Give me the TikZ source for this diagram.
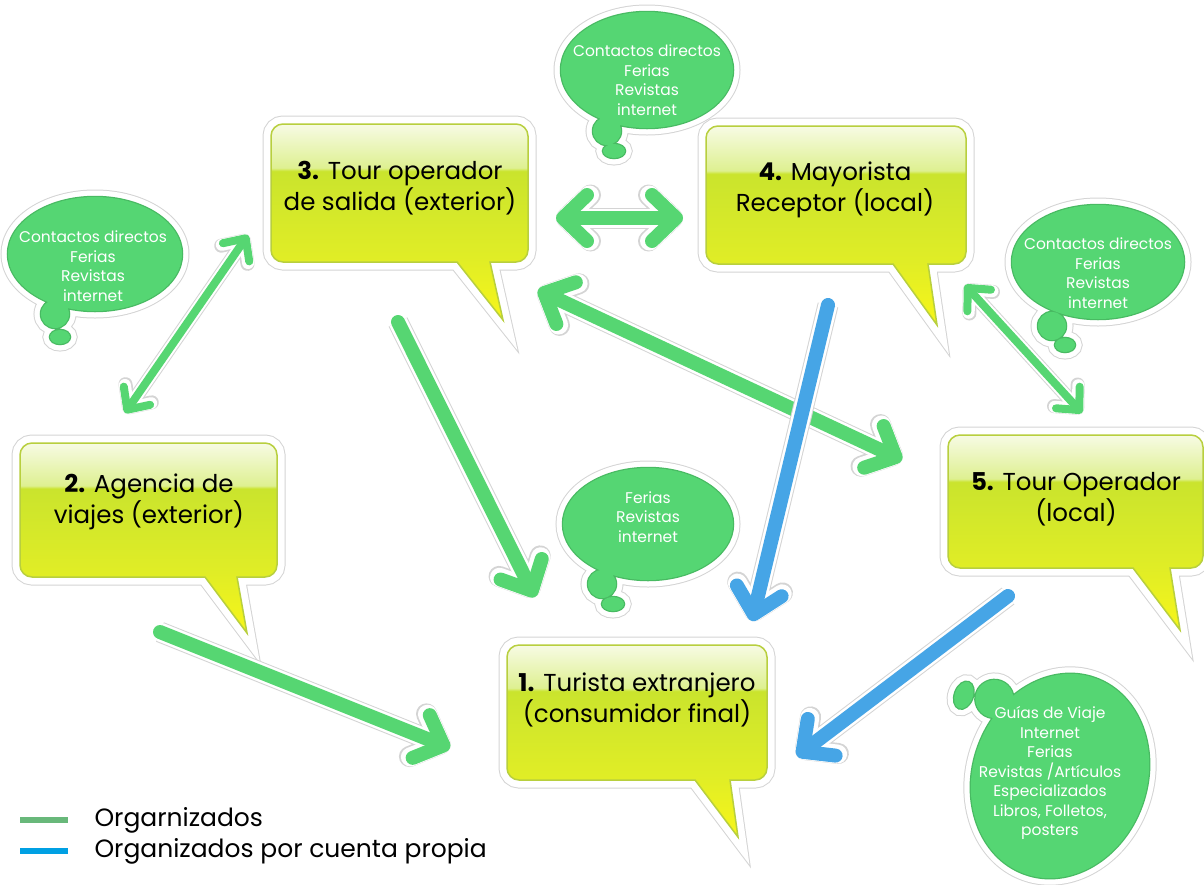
\documentclass[tikz,border=0pt]{standalone}
\usepackage{fontspec}
\setmainfont{Poppins}
\usetikzlibrary{arrows.meta}
\usetikzlibrary{calc, positioning}
\definecolor{brillo}{RGB}{247,251,228}
\definecolor{brillobajo}{RGB}{222,240,145}
\definecolor{cajamedio}{RGB}{202,228,45}
\definecolor{cajabajo}{RGB}{224,237,38}
\definecolor{cola}{RGB}{247,246,25}
\definecolor{borde}{RGB}{184,207,62}
\definecolor{halo}{RGB}{212,212,212}
\definecolor{nubeverde}{RGB}{85,214,115}
\definecolor{nubeborde}{RGB}{72,186,98}
\definecolor{flechaverde}{RGB}{86,214,114}
\definecolor{flechaazul}{RGB}{70,165,230}
\definecolor{leyverde}{RGB}{104,184,122}
\definecolor{leyazul}{RGB}{0,160,227}

\pgfdeclareverticalshading{globo}{100bp}{color(0bp)=(cola); color(25bp)=(cola); color(41bp)=(cajabajo); color(63bp)=(cajamedio); color(63.8bp)=(brillobajo); color(75bp)=(brillo); color(100bp)=(brillo)}

\tikzset{
  globo/.style={shading=globo, draw=borde, line width=1.5pt,
    preaction={draw=halo, line width=17pt}, preaction={draw=white, line width=15pt}},
  globotexto/.style={align=center, text=black, font=\fontsize{24.5}{31}\selectfont},
  nube/.style={fill=nubeverde, preaction={draw=halo, line width=15pt},
    preaction={draw=white, line width=13pt}, preaction={draw=nubeborde, line width=2.5pt}},
  nubetexto/.style={align=center, text=white, font=\fontsize{15.5}{19.5}\selectfont},
  flecha/.style={line width=14pt, line cap=round,
    preaction={draw=halo, line width=21pt}, preaction={draw=white, line width=19pt}},
  flechafina/.style={flechaverde, line width=8pt, line cap=round,
    preaction={draw=halo, line width=14pt}, preaction={draw=white, line width=12pt}},
  punta/.tip={Straight Barb[round, length=24pt, width=46pt]},
  puntafina/.tip={Straight Barb[round, length=17pt, width=32pt]},
  leyenda/.style={anchor=west, text=black, font=\fontsize{25}{30}\selectfont}
}

\begin{document}
\begin{tikzpicture}[x=1pt, y=1pt, yscale=-1]
\useasboundingbox (0,0) rectangle (1204,884);

% nubes
\path[nube] (647,70) ellipse[x radius=86, y radius=58] (607,131) circle[radius=14] (614,151) ellipse[x radius=11, y radius=7];
\path[nube] (95,254) ellipse[x radius=87, y radius=57] (55,314) circle[radius=14] (60,337) ellipse[x radius=10, y radius=7];
\path[nube] (1098,262) ellipse[x radius=86, y radius=57] (1052,326) circle[radius=14] (1065,345) ellipse[x radius=10, y radius=7];
\path[nube] (648,524) ellipse[x radius=85, y radius=56] (602,584) circle[radius=14] (613,604) ellipse[x radius=11, y radius=7];
\begin{scope}[rotate around={20:(1060,776)}]
  \path[nube] (1060,776) ellipse[x radius=87, y radius=104] (972,726) circle[radius=19] (942,733) ellipse[x radius=9, y radius=14];
\end{scope}

% globos
\path[globo] (400,124) [rounded corners=12] -- (528,124) -- (528,262) [sharp corners] -- (490,262) -- (503,320) -- (457,262) [rounded corners=12] -- (271,262) -- (271,124) -- cycle;
\path[globo] (836,126) [rounded corners=12] -- (966,126) -- (966,264) [sharp corners] -- (928,264) -- (937,325) -- (893,264) [rounded corners=12] -- (706,264) -- (706,126) -- cycle;
\path[globo] (148,443) [rounded corners=12] -- (277,443) -- (277,577) [sharp corners] -- (237,577) -- (247,633) -- (205,577) [rounded corners=12] -- (20,577) -- (20,443) -- cycle;
\path[globo] (1076,435) [rounded corners=12] -- (1203,435) -- (1203,568) [sharp corners] -- (1170,568) -- (1180,630) -- (1133,568) [rounded corners=12] -- (948,568) -- (948,435) -- cycle;
\path[globo] (637,645) [rounded corners=12] -- (767,645) -- (767,780) [sharp corners] -- (730,780) -- (738,837) -- (695,780) [rounded corners=12] -- (507,780) -- (507,645) -- cycle;

\node[globotexto] (b3) at (400,188) {\textbf{3.} Tour operador\\de salida (exterior)};
\node[globotexto] (b4) at (835,190) {\textbf{4.} Mayorista\\Receptor (local)};
\node[globotexto] (b2) at (149,502) {\textbf{2.} Agencia de\\viajes (exterior)};
\node[globotexto] (b5) at (1076,499) {\textbf{5.} Tour Operador\\(local)};
\node[globotexto] (b1) at (637,700) {\textbf{1.} Turista extranjero\\(consumidor final)};

\node[nubetexto] (n4) at (647,80) {Contactos directos\\Ferias\\Revistas\\internet};
\node[nubetexto] (n2) at (93,266) {Contactos directos\\Ferias\\Revistas\\internet};
\node[nubetexto] (n5) at (1098,273) {Contactos directos\\Ferias\\Revistas\\internet};
\node[nubetexto] (n1) at (648,517) {Ferias\\Revistas\\internet};
\node[nubetexto] (n6) at (1050,773) {Gu\'ias de Viaje\\Internet\\Ferias\\Revistas /Art\'iculos\\Especializados\\Libros, Folletos,\\posters};

% extremos de flechas
\coordinate (a1s) at (125,413); \coordinate (a1e) at (248,235);
\coordinate (a2s) at (556,218); \coordinate (a2e) at (683,218);
\coordinate (a3s) at (538,290); \coordinate (a3e) at (902,460);
\coordinate (a4s) at (398,322); \coordinate (a4e) at (535,597);
\coordinate (a5s) at (160,632); \coordinate (a5e) at (450,748);
\coordinate (a6s) at (965,285); \coordinate (a6e) at (1082,413);
\coordinate (a7s) at (828,305); \coordinate (a7e) at (752,621);
\coordinate (a8s) at (1008,596); \coordinate (a8e) at (797,756);

% organizados
\draw[flechafina, puntafina-puntafina] (a1s) -- (a1e);
\draw[flecha, flechaverde, punta-punta] (a2s) -- (a2e);
\draw[flecha, flechaverde, punta-punta] (a3s) -- (a3e);
\draw[flecha, flechaverde, -punta] (a4s) -- (a4e);
\draw[flecha, flechaverde, -punta] (a5s) -- (a5e);
\draw[flechafina, puntafina-puntafina] (a6s) -- (a6e);
% por cuenta propia
\draw[flecha, flechaazul, -punta] (a7s) -- (a7e);
\draw[flecha, flechaazul, -punta] (a8s) -- (a8e);

% leyenda
\coordinate (l1) at (20,820);
\coordinate (l2) at (20,851);
\draw[leyverde, line width=6pt] (l1) -- ++(48,0) coordinate (l1e);
\draw[leyazul, line width=6pt] (l2) -- ++(48,0) coordinate (l2e);
\node[leyenda, right=23pt of l1e] (t1) {Orgarnizados};
\node[leyenda, right=23pt of l2e] (t2) {Organizados por cuenta propia};
\end{tikzpicture}
\end{document}
